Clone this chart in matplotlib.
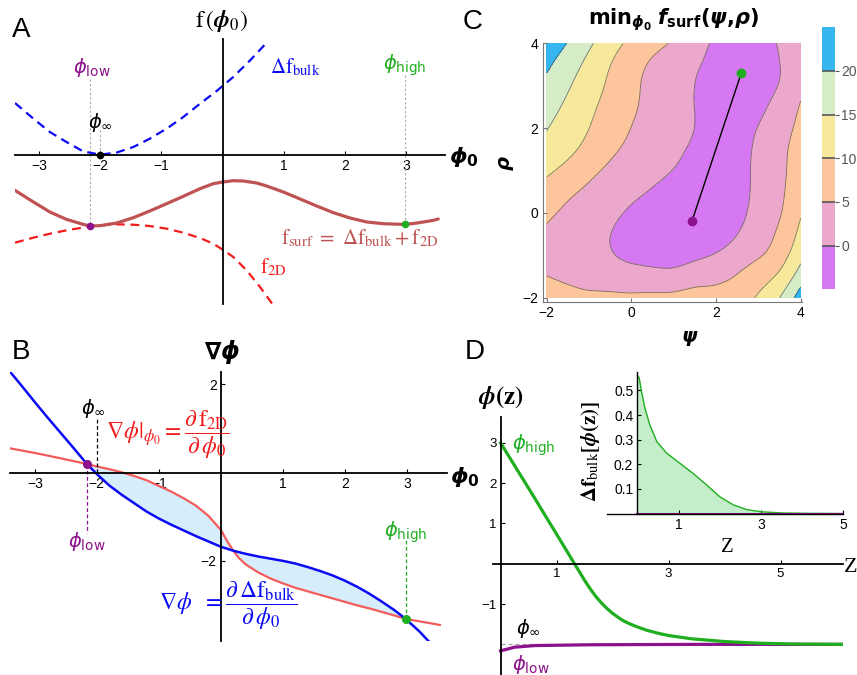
import numpy as np
import matplotlib
matplotlib.use("Agg")
import matplotlib.pyplot as plt
import matplotlib.tri as mtri

plt.rcParams['font.family'] = ['Liberation Sans', 'DejaVu Sans']
plt.rcParams['axes.unicode_minus'] = True

# ---------------- panel A : free energies vs phi0 ----------------
bulk_x = [-3.39, -3.09, -2.82, -2.55, -2.28, -2.0, -1.73, -1.46, -1.19, -0.915,
          -0.643, -0.37, -0.098, 0.174, 0.447, 0.719]
bulk_y = [0.844, 0.588, 0.370, 0.207, 0.055, 0.0, 0.035, 0.125, 0.261, 0.425,
          0.615, 0.833, 1.04, 1.27, 1.54, 1.83]

surf_x = [-3.39, -3.09, -2.82, -2.55, -2.28, -2.16, -2.0, -1.73, -1.46, -1.19,
          -0.915, -0.643, -0.37, -0.153, 0.0, 0.174, 0.338, 0.556, 0.719, 0.991,
          1.264, 1.536, 1.808, 2.081, 2.353, 2.625, 2.979, 3.17, 3.44, 3.52]
surf_y = [-0.583, -0.773, -0.937, -1.057, -1.138, -1.166, -1.160, -1.117, -1.030, -0.921,
          -0.801, -0.681, -0.556, -0.474, -0.447, -0.425, -0.430, -0.463, -0.512, -0.610,
          -0.724, -0.839, -0.948, -1.035, -1.100, -1.128, -1.140, -1.117, -1.073, -1.051]

f2d_x = [-3.39, -3.09, -2.82, -2.55, -2.16, -2.0, -1.73, -1.46, -1.19, -0.915,
         -0.643, -0.37, -0.153, 0.0, 0.174, 0.392, 0.610, 0.828]
f2d_y = [-1.438, -1.356, -1.291, -1.236, -1.171, -1.155, -1.138, -1.144, -1.166, -1.209,
         -1.275, -1.362, -1.454, -1.552, -1.672, -1.890, -2.162, -2.462]

phi_low, phi_inf, phi_high = -2.16, -2.0, 2.98
fA_low, fA_high = -1.166, -1.140

# ---------------- panel B : gradients ----------------
xB = [-3.4, -3.2, -3.0, -2.8, -2.6, -2.4, -2.16, -2.0, -1.8, -1.6, -1.4, -1.2, -1.0,
      -0.8, -0.6, -0.4, -0.2, 0.0, 0.1, 0.2, 0.3, 0.4, 0.6, 0.8, 1.0, 1.2, 1.4, 1.6,
      1.8, 2.0, 2.2, 2.4, 2.6, 2.8, 2.98, 3.2, 3.4, 3.53]
grad_bulk = [2.29, 1.95, 1.60, 1.26, 0.93, 0.60, 0.197, -0.03, -0.29, -0.50, -0.69,
             -0.88, -1.04, -1.18, -1.31, -1.44, -1.56, -1.68, -1.725, -1.77, -1.805,
             -1.84, -1.90, -1.95, -2.00, -2.06, -2.14, -2.23, -2.33, -2.45, -2.59,
             -2.75, -2.93, -3.12, -3.318, -3.60, -3.90, -4.10]
grad_2d = [0.552, 0.50, 0.447, 0.39, 0.33, 0.27, 0.197, 0.14, 0.08, 0.01, -0.075,
           -0.17, -0.30, -0.43, -0.58, -0.75, -0.98, -1.30, -1.55, -1.77, -1.95,
           -2.08, -2.26, -2.40, -2.51, -2.61, -2.69, -2.77, -2.85, -2.93, -3.01,
           -3.08, -3.16, -3.24, -3.318, -3.37, -3.42, -3.454]
gB_low, gB_high = 0.197, -3.318

# ---------------- panel C : min f_surf(psi, rho) ----------------
psi_grid = [-2, -1.5, -1, -0.5, 0, 0.5, 1, 1.5, 2, 2.5, 3, 3.5, 4]
rho_grid = [-2, -1.5, -1, -0.5, 0, 0.5, 1, 1.5, 2, 2.5, 3, 3.5, 4]
fmin = [  # rows: rho from -2 up to 4, columns: psi from -2 to 4
    [7.5, 6.6, 6.0, 6.0, 5.8, 6.0, 6.3, 6.8, 7.5, 9.3, 10.3, 14.95, 22.5],
    [5.05, 4.2, 3.3, 2.6, 2.1, 1.8, 1.7, 3.0, 3.6, 5.4, 8.0, 11.0, 17.6],
    [4.0, 3.0, 1.8, 0.36, -0.9, -1.7, -1.9, -1.0, 0.4, 2.46, 4.5, 7.8, 13.6],
    [4.3, 3.0, 1.7, 0.05, -1.4, -2.6, -3.3, -3.3, -2.5, -0.05, 2.7, 5.9, 11.3],
    [5.9, 4.08, 2.54, 1.01, -0.6, -2.0, -3.0, -3.3, -2.8, -1.3, 1.7, 4.65, 9.5],
    [8.0, 5.9, 4.15, 2.64, 1.12, -0.4, -1.9, -2.8, -2.8, -1.6, 1.2, 4.2, 7.8],
    [10.9, 8.56, 6.15, 4.24, 2.78, 1.32, -0.15, -1.8, -2.4, -1.6, 1.15, 4.0, 7.3],
    [13.3, 11.1, 8.5, 5.9, 4.02, 2.5, 0.98, -0.7, -1.8, -1.5, 0.9, 3.84, 6.8],
    [15.2, 12.6, 10.02, 7.45, 4.93, 3.28, 1.62, -0.05, -1.8, -2.2, 0.2, 3.15, 6.1],
    [16.9, 14.0, 11.06, 8.3, 5.7, 3.64, 1.8, -0.05, -1.8, -2.6, -1.2, 1.9, 5.3],
    [18.8, 15.5, 12.3, 9.1, 6.1, 3.8, 1.9, -0.02, -1.6, -2.6, -1.8, 0.25, 4.0],
    [20.9, 17.3, 13.7, 10.1, 7.04, 4.35, 2.44, 0.53, -1.2, -2.5, -2.0, -0.05, 2.5],
    [23.5, 19.76, 15.8, 12.0, 8.95, 6.7, 4.34, 1.79, -0.7, -2.0, -1.5, 0.3, 2.5],
]
levels = [-5, 0, 5, 10, 15, 20, 25]
level_colors = ['#d578f2', '#eba7cc', '#fdc59b', '#f7e99c', '#d6ecc7', '#35b6ee']
pt_low = (1.43, -0.196)
pt_high = (2.60, 3.31)

# ---------------- panel D : profiles phi(z) ----------------
z_high = [0.0, 0.2, 0.4, 0.6, 0.8, 1.0, 1.2, 1.32, 1.4, 1.5, 1.6, 1.7, 1.8, 1.9, 2.0,
          2.1, 2.2, 2.3, 2.4, 2.6, 2.8, 3.0, 3.4, 4.0, 4.6, 5.2, 6.12]
phi_z_high = [3.0, 2.55, 2.10, 1.65, 1.19, 0.735, 0.276, 0.0, -0.18, -0.41, -0.62,
              -0.81, -0.97, -1.11, -1.23, -1.33, -1.42, -1.486, -1.545, -1.645, -1.72,
              -1.78, -1.86, -1.93, -1.97, -1.99, -2.0]
z_low = [0.0, 0.25, 0.61, 1.09, 1.6, 2.5, 3.47, 6.12]
phi_z_low = [-2.16, -2.07, -2.03, -2.02, -2.01, -2.005, -2.0, -2.0]

z_in = [0.0, 0.04, 0.10, 0.18, 0.30, 0.47, 0.71, 1.03, 1.35, 1.68, 2.0, 2.33, 2.65,
        3.01, 3.54, 4.2, 5.0]
dfb_in = [0.56, 0.552, 0.495, 0.428, 0.360, 0.292, 0.245, 0.204, 0.163, 0.116, 0.068,
          0.035, 0.016, 0.007, 0.002, 0.0005, 0.0]

# ---------------- colours ----------------
BLUE = '#0b0bf5'
RED_D = '#f21c1c'
RED_S = '#bf5252'
RED_B = '#f45c5c'
PURPLE = '#8c118c'
GREEN = '#1fae1f'
FILL_B = '#d6eefc'
FILL_IN = '#c4eec9'

W, H = 857, 675
fig = plt.figure(figsize=(W / 100, H / 100), dpi=100)


def box(x0, y0, x1, y1):
    return [x0 / W, 1 - y1 / H, (x1 - x0) / W, (y1 - y0) / H]


def fx(px):
    return px / W


def fy(py):
    return 1 - py / H


def cross_axes(ax, xt, yt, lw=1.3, ls=10):
    for s in ('top', 'right'):
        ax.spines[s].set_visible(False)
    ax.spines['left'].set_position(('data', 0))
    ax.spines['bottom'].set_position(('data', 0))
    ax.spines['left'].set_linewidth(lw)
    ax.spines['bottom'].set_linewidth(lw)
    ax.set_xticks(xt)
    ax.set_yticks(yt)
    ax.tick_params(direction='in', length=3, width=0.8, labelsize=ls, pad=3)
    ax.patch.set_alpha(0)


# ================= A =================
axA = fig.add_axes(box(15, 39, 445, 304))
axA.set_xlim(-3.39, 3.63)
axA.set_ylim(-2.44, 1.89)
cross_axes(axA, [-3, -2, -1, 1, 2, 3], [])
dot = (0, (2, 2))
axA.plot([phi_low, phi_low], [1.24, fA_low], color='#aaaaaa', lw=0.8, ls=dot)
axA.plot([phi_inf, phi_inf], [0.40, 0], color='#aaaaaa', lw=0.8, ls=dot)
axA.plot([phi_high, phi_high], [1.30, fA_high], color='#aaaaaa', lw=0.8, ls=dot)
axA.plot(bulk_x, bulk_y, color=BLUE, lw=1.6, dashes=(4, 2.6))
axA.plot(f2d_x, f2d_y, color=RED_D, lw=1.6, dashes=(4, 2.6))
axA.plot(surf_x, surf_y, color=RED_S, lw=2.3, solid_capstyle='round')
axA.plot([phi_low], [fA_low], 'o', color=PURPLE, ms=4.5, zorder=5)
axA.plot([phi_inf], [0], 'o', color='black', ms=4.5, zorder=5)
axA.plot([phi_high], [fA_high], 'o', color=GREEN, ms=4.5, zorder=5)

axA.text(-2.14, 1.43, r'$\phi_{\rm low}$', color=PURPLE, fontsize=14, ha='center', va='center')
axA.text(2.98, 1.46, r'$\phi_{\rm high}$', color=GREEN, fontsize=14, ha='center', va='center')
axA.text(-2.0, 0.52, r'$\phi_\infty$', color='black', fontsize=14, ha='center', va='center')
axA.text(1.18, 1.43, r'$\Delta\mathrm{f}_{\mathrm{bulk}}$', color=BLUE, fontsize=15,
         ha='center', va='center', math_fontfamily='stix')
axA.text(2.23, -1.37, r'$\mathrm{f}_{\mathrm{surf}}\ =\ \Delta\mathrm{f}_{\mathrm{bulk}}+\mathrm{f}_{\mathrm{2D}}$',
         color=RED_S, fontsize=15, ha='center', va='center', math_fontfamily='stix')
axA.text(0.83, -1.84, r'$\mathrm{f}_{\mathrm{2D}}$', color=RED_D, fontsize=15,
         ha='center', va='center', math_fontfamily='stix')
fig.text(fx(222), fy(21), r'$\mathrm{f}\,(\mathbfit{\phi}_0)$', fontsize=17,
         ha='center', va='center', math_fontfamily='stix')
fig.text(fx(449), fy(157), r'$\mathbfit{\phi}_\mathbf{0}$', fontsize=16, ha='left', va='center')

# ================= B =================
axB = fig.add_axes(box(10, 371.7, 446.7, 640.7))
axB.set_xlim(-3.40, 3.64)
axB.set_ylim(-3.81, 2.29)
cross_axes(axB, [-3, -2, -1, 1, 2, 3], [-2, 2])
xb = np.array(xB)
sel = (xb >= phi_low - 1e-9) & (xb <= phi_high + 1e-9)
axB.fill_between(xB, grad_bulk, grad_2d, where=sel, color=FILL_B, lw=0)
axB.plot(xB, grad_2d, color=RED_B, lw=1.6)
axB.plot(xB, grad_bulk, color=BLUE, lw=1.8)
axB.plot([phi_inf, phi_inf], [0, 1.27], color='black', lw=0.9, dashes=(3, 2))
axB.plot([phi_low, phi_low], [gB_low, -1.376], color=PURPLE, lw=0.9, dashes=(3, 2))
axB.plot([phi_high, phi_high], [gB_high, -1.527], color=GREEN, lw=0.9, dashes=(3, 2))
axB.plot([phi_low], [gB_low], 'o', color=PURPLE, ms=5.5, zorder=5)
axB.plot([phi_high], [gB_high], 'o', color=GREEN, ms=5.5, zorder=5)
axB.text(-2.05, 1.46, r'$\phi_\infty$', color='black', fontsize=14, ha='center', va='center')
axB.text(-2.16, -1.57, r'$\phi_{\rm low}$', color=PURPLE, fontsize=14, ha='center', va='center')
axB.text(2.98, -1.34, r'$\phi_{\rm high}$', color=GREEN, fontsize=14, ha='center', va='center')
axB.text(-0.86, 0.86, r'$\nabla\phi|_{\phi_0} = \dfrac{\partial\,\mathrm{f}_{\mathrm{2D}}}{\partial\,\phi_0}$',
         color=RED_D, fontsize=17, ha='center', va='center', math_fontfamily='stix')
axB.text(0.12, -3.02, r'$\nabla\phi\ \ =\dfrac{\partial\,\Delta\mathrm{f}_{\mathrm{bulk}}}{\partial\,\phi_0}$',
         color=BLUE, fontsize=17, ha='center', va='center', math_fontfamily='stix')
fig.text(fx(222), fy(352), r'$\mathbf{\nabla}\mathbfit{\phi}$', fontsize=17, ha='center', va='center')
fig.text(fx(450), fy(477), r'$\mathbfit{\phi}_\mathbf{0}$', fontsize=16, ha='left', va='center')

# ================= C =================
axC = fig.add_axes(box(542.5, 43.3, 802, 301.9))
Z = np.array(fmin)
PP, RR = np.meshgrid(psi_grid, rho_grid)
nr, nc = Z.shape
tris = []
for i in range(nr - 1):
    for j in range(nc - 1):
        k = i * nc + j
        tris.append([k, k + 1, k + nc + 1])
        tris.append([k, k + nc + 1, k + nc])
tri = mtri.Triangulation(PP.ravel(), RR.ravel(), tris)
# smooth rendering of the coarse grid, done by matplotlib's own refiner
tri_f, z_f = mtri.UniformTriRefiner(tri).refine_field(Z.ravel(), subdiv=3)
z_f = np.clip(z_f, -4.99, 24.99)
cf = axC.tricontourf(tri_f, z_f, levels=levels, colors=level_colors)
axC.tricontour(tri_f, z_f, levels=levels[1:-1], colors='#444444', linewidths=0.6, alpha=0.7)
axC.plot([pt_low[0], pt_high[0]], [pt_low[1], pt_high[1]], color='black', lw=1)
axC.plot([pt_low[0]], [pt_low[1]], 'o', color=PURPLE, ms=6)
axC.plot([pt_high[0]], [pt_high[1]], 'o', color=GREEN, ms=6)
axC.set_xlim(-2.1, 4.03)
axC.set_ylim(-2.1, 4.0)
for s in ('top', 'right'):
    axC.spines[s].set_visible(False)
for s in ('left', 'bottom'):
    axC.spines[s].set_color('#777777')
axC.set_xticks([-2, 0, 2, 4])
axC.set_yticks([-2, 0, 2, 4])
axC.tick_params(direction='in', length=3, width=0.8, color='#777777', labelsize=10, pad=3)
fig.text(fx(690), fy(338), r'$\mathbfit{\psi}$', fontsize=14, ha='center', va='center')
fig.text(fx(506), fy(163), r'$\mathbfit{\rho}$', fontsize=14, ha='center', va='center', rotation=90)
fig.text(fx(673), fy(20),
         r'$\mathbf{min}_{\mathbfit{\phi}_\mathbf{0}}\;\mathbfit{f}_{\mathbf{surf}}\mathbf{(}\mathbfit{\psi}\mathbf{,}\mathbfit{\rho}\mathbf{)}$',
         fontsize=15, ha='center', va='center')

cax = fig.add_axes(box(822, 27.3, 835, 289.3))
cb = fig.colorbar(cf, cax=cax, ticks=[0, 5, 10, 15, 20], drawedges=True)
cb.outline.set_visible(False)
cb.dividers.set_color('#555555')
cb.dividers.set_linewidth(1.2)
cax.tick_params(labelsize=10, labelcolor='#555555', color='#555555', length=3, width=0.8, pad=1.5)

# ================= D =================
axD = fig.add_axes(box(493.3, 416.7, 843.3, 675))
axD.set_xlim(-0.13, 6.12)
axD.set_ylim(-2.76, 3.65)
cross_axes(axD, [1, 3, 5], [-1, 1, 2, 3], ls=9.5)
axD.plot([0, 6.12], [phi_inf, phi_inf], color='#aaaaaa', lw=1, dashes=(3, 2))
axD.plot(z_low, phi_z_low, color=PURPLE, lw=2.3)
axD.plot(z_high, phi_z_high, color=GREEN, lw=2.3)
axD.text(0.2, 2.95, r'$\phi_{\rm high}$', color=GREEN, fontsize=14, ha='left', va='center')
axD.text(0.28, -1.6, r'$\phi_\infty$', color='black', fontsize=14, ha='left', va='center')
axD.text(0.2, -2.5, r'$\phi_{\rm low}$', color=PURPLE, fontsize=14, ha='left', va='center')
fig.text(fx(501), fy(397), r'$\mathbfit{\phi}\mathbf{(z)}$', fontsize=18, ha='center',
         va='center', math_fontfamily='stix')
fig.text(fx(844), fy(567), 'Z', family='Liberation Serif', fontsize=16, ha='left', va='center')

axI = fig.add_axes(box(606.6, 371.7, 843.3, 513.5))
axI.set_xlim(-0.75, 5.0)
axI.set_ylim(0, 0.576)
cross_axes(axI, [1, 3, 5], [0.1, 0.2, 0.3, 0.4, 0.5], lw=1.0)
axI.fill_between(z_in, 0, dfb_in, color=FILL_IN, lw=0)
axI.plot(z_in, dfb_in, color=GREEN, lw=1.0)
axI.plot([0, 5], [0, 0], color=PURPLE, lw=1.5)
axI.set_yticklabels(['0.1', '0.2', '0.3', '0.4', '0.5'])
fig.text(fx(590), fy(452), r'$\mathbf{\Delta f}_{\mathrm{bulk}}\mathbf{[}\mathbfit{\phi}\mathbf{(z)]}$',
         fontsize=15, rotation=90, ha='center', va='center', math_fontfamily='stix')
fig.text(fx(727), fy(547), 'Z', family='Liberation Serif', fontsize=15, ha='center', va='center')

# panel letters
for lab, px, py in (('A', 21, 30), ('B', 21, 352), ('C', 473, 22), ('D', 475, 352)):
    fig.text(fx(px), fy(py), lab, fontsize=20, ha='center', va='center')

fig.savefig('out.png', dpi=100)
